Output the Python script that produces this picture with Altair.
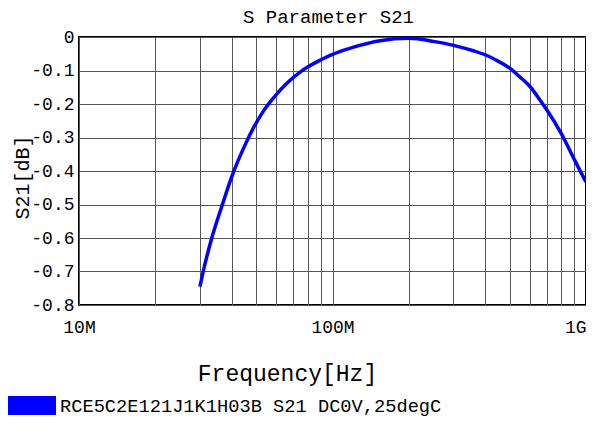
import altair as alt
import pandas as pd

# frequency in MHz, S21 in dB
freq_mhz = [30, 30.9, 33.4, 36.6, 40, 45.2, 48.7, 53.3, 60, 65.9, 75.6, 90,
            100, 117, 128, 154, 200, 250, 300, 359, 400, 445, 500, 550, 600,
            668, 700, 800, 900, 946, 1000]
s21_db = [-0.745, -0.70, -0.60, -0.505, -0.418, -0.322, -0.272, -0.222, -0.172,
          -0.139, -0.101, -0.068, -0.052, -0.034, -0.025, -0.011, -0.004,
          -0.013, -0.025, -0.041, -0.053, -0.070, -0.093, -0.120, -0.147,
          -0.195, -0.217, -0.289, -0.366, -0.398, -0.433]
series_name = "RCE5C2E121J1K1H03B S21 DC0V,25degC"

x_grid = [m * 10 ** e for e in (7, 8) for m in range(1, 10)] + [1e9]
y_grid = [-0.8, -0.7, -0.6, -0.5, -0.4, -0.3, -0.2, -0.1, 0.0]

df = pd.DataFrame({
    "f": [v * 1e6 for v in freq_mhz],
    "s21": s21_db,
    "series": [series_name] * len(freq_mhz),
})

FONT = "Liberation Mono"

chart = alt.Chart(df).mark_line(strokeWidth=3.5, interpolate="monotone").encode(
    x=alt.X("f:Q",
            scale=alt.Scale(type="log", domain=[1e7, 1e9], nice=False),
            axis=alt.Axis(
                values=x_grid,
                labelExpr="datum.value == 1e7 ? '10M' : datum.value == 1e8 ? '100M' : datum.value == 1e9 ? '1G' : ''",
                title="Frequency[Hz]",
                titleFont=FONT, titleFontSize=23, titleFontWeight="normal",
                titleColor="black",
                titleX=208, titleY=68, titleAlign="center", titleBaseline="middle",
                labelFont=FONT, labelFontSize=18, labelColor="black",
                labelPadding=13, labelBaseline="top", labelFlush=False,
                labelAlign={"expr": "datum.value == 1e9 ? 'right' : 'center'"},
                labelOverlap=False,
                ticks=False, domain=False,
                grid=True, gridColor="#555555", gridWidth=1, gridOpacity=1,
            )),
    y=alt.Y("s21:Q",
            scale=alt.Scale(domain=[-0.8, 0], nice=False, zero=False),
            axis=alt.Axis(
                values=y_grid,
                labelExpr="datum.value == 0 ? '0' : '-0.' + round(-datum.value * 10)",
                title="S21[dB]",
                titleFont=FONT, titleFontSize=20, titleFontWeight="normal",
                titleColor="black",
                titleX=-57, titleY=140, titleAngle=270,
                titleAlign="center", titleBaseline="middle",
                labelFont=FONT, labelFontSize=18, labelColor="black",
                labelPadding=5, labelFlush=False, labelOverlap=False,
                ticks=False, domain=False,
                grid=True, gridColor="#555555", gridWidth=1, gridOpacity=1,
            )),
    color=alt.Color("series:N",
                    scale=alt.Scale(domain=[series_name], range=["#0000ff"]),
                    legend=alt.Legend(
                        title=None, orient="none", legendX=-72, legendY=344,
                        symbolType="M-1,-0.39H1V0.39H-1Z", symbolSize=2401,
                        symbolFillColor="#0000ff", symbolStrokeWidth=0,
                        symbolOpacity=1,
                        labelFont=FONT, labelFontSize=18.7, labelColor="black",
                        labelOffset=4, padding=0, labelLimit=600,
                    )),
).properties(
    width=507, height=268,
    title=alt.TitleParams("S Parameter S21", font=FONT, fontSize=19,
                          fontWeight="normal", color="black",
                          anchor="middle", offset=6, baseline="bottom",
                          dx=-4, dy=24),
    autosize=alt.AutoSizeParams(type="none"),
    padding={"left": 71, "top": 29, "right": 0, "bottom": 112},
).configure_view(stroke="black", strokeWidth=2)

chart.save("out.html", embed_options={"renderer": "svg", "actions": False})
